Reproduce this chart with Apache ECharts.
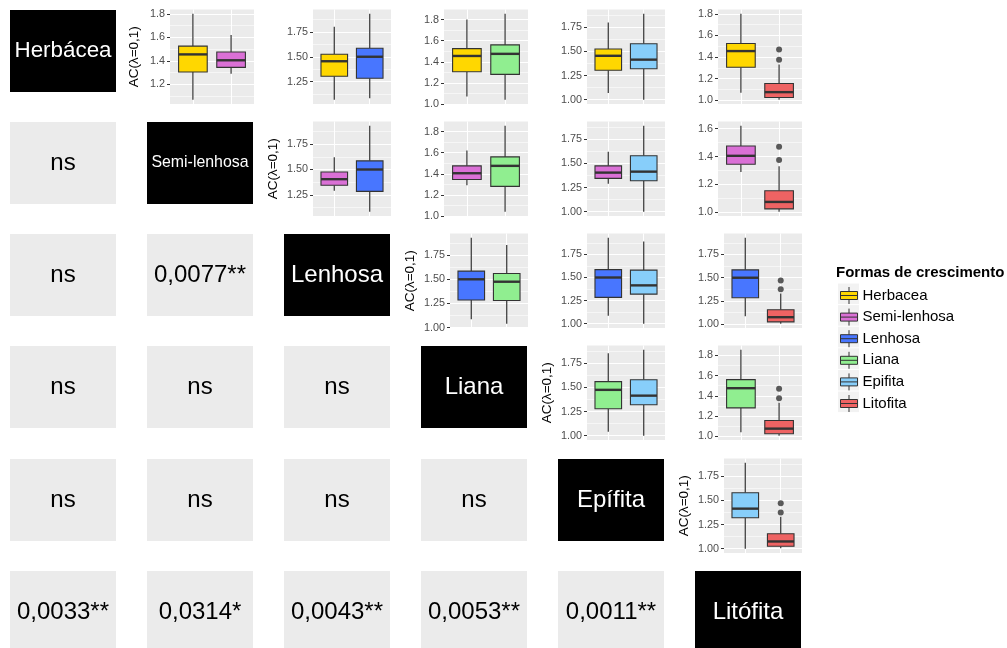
<!DOCTYPE html>
<html><head><meta charset="utf-8">
<script src="https://cdn.jsdelivr.net/npm/echarts@6/dist/echarts.min.js"></script>
<style>html,body{margin:0;padding:0;background:#fff}#c{width:1007px;height:648px}</style>
</head><body><div id="c"></div>
<script>
// ---------------- data ----------------
const groups = ['Herbacea', 'Semi-lenhosa', 'Lenhosa', 'Liana', 'Epifita', 'Litofita'];
const diagLabels = ['Herbácea', 'Semi-lenhosa', 'Lenhosa', 'Liana', 'Epífita', 'Litófita'];
// five-number summaries per growth form
const statMin = [1.07, 1.29, 1.085, 1.04, 1.00, 1.005];
const statQ1  = [1.305, 1.345, 1.285, 1.28, 1.32, 1.025];
const statMed = [1.455, 1.405, 1.50, 1.475, 1.415, 1.075];
const statQ3  = [1.525, 1.475, 1.585, 1.56, 1.58, 1.155];
const statMax = [1.80, 1.62, 1.93, 1.855, 1.89, 1.33];
const outliers = [[], [], [], [], [], [1.375, 1.47]];
// lower triangle: p-values (row = second group, col = first group)
const pValues = [
  [],
  ['ns'],
  ['ns', '0,0077**'],
  ['ns', 'ns', 'ns'],
  ['ns', 'ns', 'ns', 'ns'],
  ['0,0033**', '0,0314*', '0,0043**', '0,0053**', '0,0011**']
];
const ticksFine = [1.0, 1.2, 1.4, 1.6, 1.8];
const ticksCoarse = [1.00, 1.25, 1.50, 1.75];
const coarseGroups = [2, 4]; // panels with Lenhosa or Epifita use the 0.25 tick set
const yTitle = 'AC(λ=0,1)';
const legendTitle = 'Formas de crescimento';

// ---------------- styles / layout ----------------
const colors = ['#FFD700', '#DA70D6', '#4876FF', '#90EE90', '#87CEFA', '#EE6363'];
const FONT = '"Liberation Sans", Arial, sans-serif';
const cellLeft = [10, 147, 284, 421, 558, 695];
const rowTop = [10, 122, 234, 346, 459, 571];
const cellW = 106, cellH = 82;
const legendTop = 283.5, legendPitch = 21.6, legendItemH = 18;

const measureCtx = document.createElement('canvas').getContext('2d');
function fitSize(text, base, maxW) {
  measureCtx.font = base + 'px ' + FONT;
  const w = measureCtx.measureText(text).width;
  return w > maxW ? base * maxW / w : base;
}

const grids = [], xAxes = [], yAxes = [], series = [], graphics = [];

// tiles
for (let r = 0; r < 6; r++) {
  for (let c = 0; c <= r; c++) {
    const diag = r === c;
    const text = diag ? diagLabels[r] : pValues[r][c];
    graphics.push({
      type: 'rect', silent: true,
      shape: { x: cellLeft[c], y: rowTop[r], width: cellW, height: cellH },
      style: { fill: diag ? '#000000' : '#EBEBEB' }
    });
    graphics.push({
      type: 'text', silent: true,
      style: {
        text: text, x: cellLeft[c] + cellW / 2, y: rowTop[r] + cellH / 2,
        align: 'center', verticalAlign: 'middle',
        font: fitSize(text, 24, 97).toFixed(1) + 'px ' + FONT,
        fill: diag ? '#ffffff' : '#000000'
      }
    });
  }
}
// legend key backgrounds
groups.forEach((g, idx) => {
  graphics.push({
    type: 'rect', silent: true, z: 1,
    shape: { x: 838, y: legendTop + idx * legendPitch, width: 21, height: legendPitch - 1 },
    style: { fill: '#F2F2F2' }
  });
});

function renderBox(params, api) {
  const x = api.value(0);
  const pMin = api.coord([x, api.value(1)]);
  const pQ1 = api.coord([x, api.value(2)]);
  const pMed = api.coord([x, api.value(3)]);
  const pQ3 = api.coord([x, api.value(4)]);
  const pMax = api.coord([x, api.value(5)]);
  const w = api.size([0.75, 0])[0];
  const cx = pMed[0];
  const ln = { stroke: '#333333', lineWidth: 1.2 };
  return {
    type: 'group', children: [
      { type: 'line', shape: { x1: cx, y1: pMax[1], x2: cx, y2: pQ3[1] }, style: ln },
      { type: 'line', shape: { x1: cx, y1: pQ1[1], x2: cx, y2: pMin[1] }, style: ln },
      { type: 'rect', shape: { x: cx - w / 2, y: pQ3[1], width: w, height: pQ1[1] - pQ3[1] },
        style: { fill: api.visual('color'), stroke: '#333333', lineWidth: 1.1 } },
      { type: 'line', shape: { x1: cx - w / 2, y1: pMed[1], x2: cx + w / 2, y2: pMed[1] },
        style: { stroke: '#333333', lineWidth: 2.4 } }
    ]
  };
}

let k = 0;
for (let i = 0; i < 6; i++) {
  for (let j = i + 1; j < 6; j++) {
    const pair = [i, j];
    let lo = Infinity, hi = -Infinity;
    pair.forEach(g => {
      lo = Math.min(lo, statMin[g], ...outliers[g]);
      hi = Math.max(hi, statMax[g], ...outliers[g]);
    });
    const pad = (hi - lo) * 0.05;
    lo -= pad; hi += pad;
    const coarse = coarseGroups.includes(i) || coarseGroups.includes(j);
    const tickSet = coarse ? ticksCoarse : ticksFine;
    const step = coarse ? 0.25 : 0.2;
    const dec = coarse ? 2 : 1;
    const majors = tickSet.filter(v => v >= lo && v <= hi);
    const minors = tickSet.map(v => v - step / 2).concat([tickSet[tickSet.length - 1] + step / 2])
      .filter(v => v >= lo && v <= hi);
    const right = cellLeft[j] + 107;
    const width = coarse ? 78 : 84;
    const first = j === i + 1;

    grids.push({
      left: right - width, top: rowTop[i] - 0.5, width: width, height: 94.5,
      show: true, backgroundColor: '#EBEBEB', borderWidth: 0
    });
    xAxes.push({
      type: 'value', gridIndex: k, min: 0.4, max: 2.6,
      axisLine: { show: false }, axisLabel: { show: false },
      axisTick: { show: false, customValues: [1, 2] },
      splitLine: { show: true, lineStyle: { color: '#ffffff', width: 1.1 } }
    });
    yAxes.push({
      type: 'value', gridIndex: k, min: lo, max: hi, position: 'left',
      axisLine: { show: false },
      axisTick: { show: true, length: 3, customValues: majors, lineStyle: { color: '#333333', width: 1 } },
      axisLabel: {
        show: true, customValues: majors, margin: 5, color: '#4D4D4D', fontSize: 10.8, fontFamily: FONT,
        formatter: v => Number(v).toFixed(dec)
      },
      splitLine: { show: true, lineStyle: { color: '#ffffff', width: 1.1 } },
      name: first ? yTitle : '', nameLocation: 'middle', nameRotate: 90,
      nameGap: coarse ? 33 : 29,
      nameTextStyle: { fontSize: 13.5, color: '#000000', fontFamily: FONT }
    });
    yAxes.push({
      type: 'value', gridIndex: k, min: lo, max: hi, position: 'right',
      axisLine: { show: false }, axisLabel: { show: false },
      axisTick: { show: false, customValues: minors },
      splitLine: { show: true, lineStyle: { color: '#ffffff', width: 0.55 } }
    });
    pair.forEach((g, idx) => {
      series.push({
        type: 'custom', name: groups[g], xAxisIndex: k, yAxisIndex: 2 * k,
        itemStyle: { color: colors[g], borderColor: '#333333', borderWidth: 1 },
        dimensions: ['x', 'min', 'q1', 'med', 'q3', 'max'],
        encode: { x: 0, y: [1, 2, 3, 4, 5] },
        renderItem: renderBox, silent: true, z: 2,
        data: [[idx + 1, statMin[g], statQ1[g], statMed[g], statQ3[g], statMax[g]]]
      });
      if (outliers[g].length) {
        series.push({
          type: 'scatter', name: groups[g] + ' outliers', xAxisIndex: k, yAxisIndex: 2 * k,
          symbol: 'circle', symbolSize: 6, silent: true, z: 3,
          itemStyle: { color: '#333333' },
          data: outliers[g].map(v => [idx + 1, v])
        });
      }
    });
    k++;
  }
}

const iconPath = 'path://M8.5,0 V4.5 M0,4.5 H17 V12.5 H0 Z M0,8.5 H17 M8.5,12.5 V17';
const chart = echarts.init(document.getElementById('c'), null, { renderer: 'canvas' });
chart.setOption({
  animation: false,
  backgroundColor: '#ffffff',
  textStyle: { fontFamily: FONT },
  title: {
    text: legendTitle, left: 831, top: 260,
    textStyle: { fontSize: 15, fontWeight: 'bold', color: '#000000', fontFamily: FONT }
  },
  legend: {
    orient: 'vertical', left: 835, top: legendTop - 2, itemWidth: 17, itemHeight: 17,
    itemGap: legendPitch - legendItemH, z: 4,
    selectedMode: false,
    itemStyle: { borderColor: '#333333', borderWidth: 1 },
    textStyle: { fontSize: 15, lineHeight: legendItemH, color: '#000000', fontFamily: FONT },
    data: groups.map(n => ({ name: n, icon: iconPath }))
  },
  grid: grids, xAxis: xAxes, yAxis: yAxes, series: series,
  graphic: graphics
});
</script></body></html>
